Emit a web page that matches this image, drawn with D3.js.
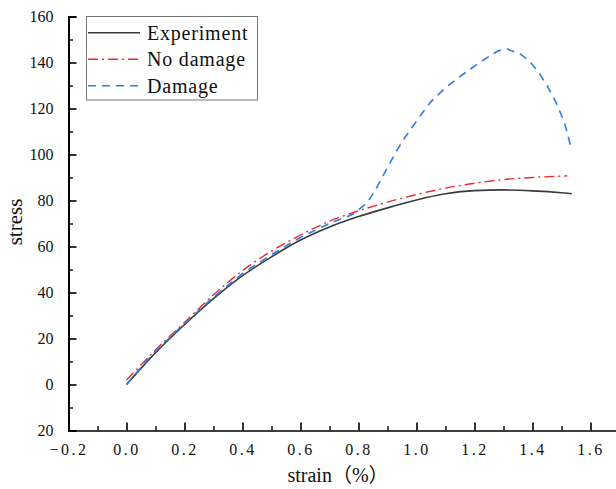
<!DOCTYPE html>
<html>
<head>
<meta charset="utf-8">
<script src="https://cdn.jsdelivr.net/npm/d3@7"></script>
<style>
  html, body { margin: 0; padding: 0; background: #fff; }
  svg { display: block; }
  text { font-family: "Liberation Serif", "Times New Roman", "Noto Sans CJK SC", serif; fill: #111; }
</style>
</head>
<body>
<svg id="chart" width="616" height="489"></svg>
<script>
// ---- data ----
const expStrain = [0, 0.05, 0.1, 0.2, 0.3, 0.4, 0.5, 0.6, 0.7, 0.8, 0.9, 1.0, 1.1, 1.2, 1.3, 1.4, 1.5, 1.535];
const expStress = [0, 7, 13.8, 26, 37.3, 47.3, 55.5, 62.8, 68.5, 73, 76.8, 80.2, 82.9, 84.3, 84.6, 84.2, 83.4, 83.0];

const noDmgStrain = [0, 0.05, 0.1, 0.2, 0.3, 0.4, 0.5, 0.6, 0.7, 0.8, 0.9, 1.0, 1.1, 1.2, 1.3, 1.4, 1.52];
const noDmgStress = [2, 8.5, 15, 27, 39, 49.5, 58, 65, 71, 75.5, 79.3, 82.6, 85.4, 87.5, 89.1, 90, 90.7];

const dmgStrain = [0, 0.05, 0.1, 0.2, 0.3, 0.4, 0.5, 0.6, 0.7, 0.78, 0.83, 0.86, 0.89, 0.92, 0.95, 0.98, 1.02, 1.05, 1.10, 1.14, 1.19, 1.23, 1.28, 1.31, 1.36, 1.39, 1.42, 1.45, 1.48, 1.51, 1.535];
const dmgStress = [0, 7.5, 14.5, 26.5, 38, 48.3, 56.5, 64, 70, 74, 79, 85, 92, 99, 105.5, 111, 118, 123, 129, 133, 137.5, 141, 145, 146, 143.5, 140.5, 136, 130, 123, 114, 102];

const seriesNames = ["Experiment", "No damage", "Damage"];
const xMajorTicks = [-0.2, 0, 0.2, 0.4, 0.6, 0.8, 1.0, 1.2, 1.4, 1.6];
const xMinorTicks = [-0.1, 0.1, 0.3, 0.5, 0.7, 0.9, 1.1, 1.3, 1.5];
const yMajorTicks = [-20, 0, 20, 40, 60, 80, 100, 120, 140, 160];
const yTickLabels = ["20", "0", "20", "40", "60", "80", "100", "120", "140", "160"];
const yMinorTicks = [-10, 10, 30, 50, 70, 90, 110, 130, 150];

// ---- layout ----
const svg = d3.select("#chart");
const x = d3.scaleLinear().domain([-0.2, 1.69]).range([68.5, 616.6]);
const y = d3.scaleLinear().domain([-20, 160]).range([430.5, 16.5]);

const styles = [
  { color: "#3a3a3a", dash: null, width: 1.6 },
  { color: "#ee2a2a", dash: "10,4,2,4", width: 1.4 },
  { color: "#2f7de1", dash: "8,6", width: 1.6 }
];

const series = [
  d3.zip(expStrain, expStress),
  d3.zip(noDmgStrain, noDmgStress),
  d3.zip(dmgStrain, dmgStress)
];

// ---- axes ----
const fmt = d3.format(".1f");
const xAxis = d3.axisBottom(x).tickValues(xMajorTicks).tickSize(-8).tickPadding(13)
  .tickFormat(d => fmt(d).replace("-", "\u2212"));
const gx = svg.append("g").attr("transform", `translate(0,${y(-20)})`).call(xAxis);
gx.select(".domain").attr("stroke", "#000").attr("stroke-width", 1.6);
gx.selectAll(".tick line").attr("stroke", "#000").attr("stroke-width", 1.6);
gx.selectAll(".tick text").attr("font-size", 16).style("letter-spacing", "2.5px").attr("fill", "#111");

const gxm = svg.append("g").attr("transform", `translate(0,${y(-20)})`)
  .call(d3.axisBottom(x).tickValues(xMinorTicks).tickSize(-4.5).tickFormat(""));
gxm.select(".domain").remove();
gxm.selectAll(".tick line").attr("stroke", "#000").attr("stroke-width", 1.4);

const yAxis = d3.axisLeft(y).tickValues(yMajorTicks).tickSize(-8).tickPadding(15)
  .tickFormat((d, i) => yTickLabels[i]);
const gy = svg.append("g").attr("transform", `translate(${x(-0.2)},0)`).call(yAxis);
gy.select(".domain").attr("stroke", "#000").attr("stroke-width", 2);
gy.selectAll(".tick line").attr("stroke", "#000").attr("stroke-width", 1.6);
gy.selectAll(".tick text").attr("font-size", 16).attr("fill", "#111");

const gym = svg.append("g").attr("transform", `translate(${x(-0.2)},0)`)
  .call(d3.axisLeft(y).tickValues(yMinorTicks).tickSize(-4.5).tickFormat(""));
gym.select(".domain").remove();
gym.selectAll(".tick line").attr("stroke", "#000").attr("stroke-width", 1.4);

// axis titles
svg.append("text").attr("x", 338).attr("y", 482).attr("text-anchor", "middle")
  .attr("font-size", 20).text("strain\uFF08%\uFF09");
svg.append("text").attr("transform", `translate(22,222) rotate(-90)`)
  .attr("text-anchor", "middle").attr("font-size", 21).text("stress");

// ---- lines ----
const line = d3.line().x(d => x(d[0])).y(d => y(d[1]));
const lineSmooth = d3.line().x(d => x(d[0])).y(d => y(d[1])).curve(d3.curveMonotoneX);
[1, 0, 2].forEach(i => {
  svg.append("path").datum(series[i])
    .attr("d", i === 2 ? line : lineSmooth)
    .attr("fill", "none")
    .attr("stroke", styles[i].color)
    .attr("stroke-width", styles[i].width)
    .attr("stroke-dasharray", styles[i].dash);
});

// ---- legend ----
const lg = svg.append("g");
lg.append("rect").attr("x", 86.5).attr("y", 16.5).attr("width", 171).attr("height", 83.5)
  .attr("fill", "#fff").attr("stroke", "#777").attr("stroke-width", 1);
seriesNames.forEach((name, i) => {
  const yy = 32.7 + i * 26.5;
  lg.append("line").attr("x1", 88).attr("x2", 140).attr("y1", yy).attr("y2", yy)
    .attr("stroke", styles[i].color).attr("stroke-width", styles[i].width)
    .attr("stroke-dasharray", styles[i].dash);
  lg.append("text").attr("x", 147).attr("y", yy + 7).attr("font-size", 20)
    .style("letter-spacing", "0.8px").text(name);
});
</script>
</body>
</html>
